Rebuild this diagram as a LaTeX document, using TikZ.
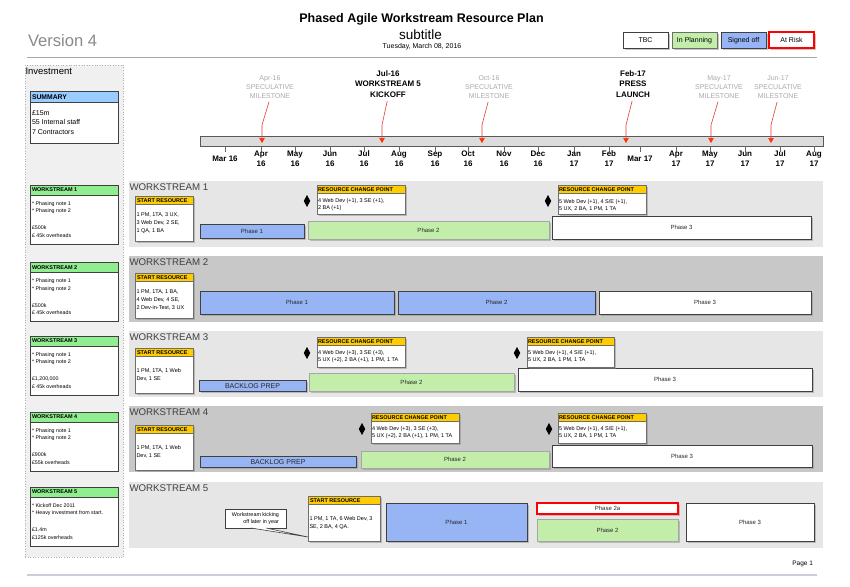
\documentclass[tikz,border=0pt]{standalone}
\usepackage{fontspec}
\setmainfont{Liberation Sans}
\usetikzlibrary{arrows.meta,shadows,shapes.geometric}
\definecolor{bandL}{RGB}{230,230,230}
\definecolor{bandD}{RGB}{200,200,200}
\definecolor{phblue}{RGB}{151,180,245}
\definecolor{phgreen}{RGB}{195,238,170}
\definecolor{hdyellow}{RGB}{255,204,0}
\definecolor{hdgreen}{RGB}{144,238,144}
\definecolor{hdblue}{RGB}{153,204,255}
\definecolor{edge}{RGB}{64,64,64}
\definecolor{softedge}{RGB}{110,110,110}
\definecolor{msgray}{RGB}{170,170,170}
\definecolor{msred}{RGB}{230,60,50}
\definecolor{msredtip}{RGB}{255,51,0}
\definecolor{wstext}{RGB}{64,64,64}
\definecolor{colfill}{RGB}{240,240,240}
\definecolor{vergray}{RGB}{138,138,138}
\definecolor{footline}{RGB}{205,205,215}
\definecolor{barfill}{RGB}{220,220,220}
\definecolor{phtext}{RGB}{40,40,40}
\newcommand{\mkbox}[7]{\node[#1,minimum width={(#5)-(#3)},minimum height={(#6)-(#4)}] (#2) at (#3,#4) {#7};}
\begin{document}
\begin{tikzpicture}[x=1pt,y=-1pt,
  every node/.style={inner sep=0pt,outer sep=0pt},
  shad/.style={drop shadow={shadow xshift=1.8pt,shadow yshift=-1.8pt,fill=black!45}},
  pbox/.style={draw=edge,line width=0.9pt,anchor=north west,align=center,text=phtext,font=\fontsize{6}{7}\selectfont,text height=4.4pt,text depth=0pt,shad},
  ibox/.style={draw=softedge,line width=0.7pt,anchor=north west,fill=white,shad},
  hbox/.style={draw=softedge,line width=0.7pt,anchor=north west,fill=hdyellow},
  lbox/.style={draw=edge,line width=0.8pt,anchor=north west,fill=white},
  colbox/.style={anchor=north west,fill=colfill,draw=gray!60,dotted,line width=0.6pt},
  bandbox/.style={anchor=north west,draw=none},
  legbox/.style={draw=edge,line width=0.8pt,anchor=north west,font=\fontsize{7}{8}\selectfont,text height=5.1pt,text depth=0pt,shad},
  hdtxt/.style={anchor=west,font=\bfseries\fontsize{5.5}{6}\selectfont},
  rtxt/.style={anchor=west,align=left,font=\fontsize{5.5}{8}\selectfont},
  ctxt/.style={anchor=west,align=left,font=\fontsize{5.5}{7}\selectfont},
  ltxt/.style={anchor=west,align=left,font=\fontsize{5.3}{7.7}\selectfont},
  wshead/.style={anchor=west,text=wstext,font=\fontsize{9.7}{11}\selectfont},
  dmd/.style={diamond,fill=black,minimum width=6.5pt,minimum height=12pt,inner sep=0pt},
  msg/.style={align=center,text=msgray,font=\fontsize{7}{9}\selectfont},
  msb/.style={align=center,font=\bfseries\fontsize{8}{10.5}\selectfont},
  msline/.style={draw=msred,line width=0.6pt,-{Triangle[width=5.5pt,length=5pt,fill=msredtip,color=msredtip]}},
  month/.style={align=center,font=\bfseries\fontsize{8}{10}\selectfont},
  tick/.style={draw=gray!80!black,line width=0.6pt}
]
\fill[white] (0,0) rectangle (850,586);
\useasboundingbox (0,0) rectangle (850,586);

% ---------- header ----------
\node[anchor=west,text=vergray,font=\fontsize{16.6}{18}\selectfont] (ver) at (28,41) {Version 4};
\node[font=\bfseries\fontsize{12.5}{14}\selectfont] (title) at (421.5,19.5) {Phased Agile Workstream Resource Plan};
\node[font=\fontsize{13.5}{15}\selectfont] (sub) at (420.5,35) {subtitle};
\node[font=\fontsize{7}{8}\selectfont] (date) at (422,46.5) {Tuesday, March 08, 2016};
\draw[gray!70,line width=0.8pt] (27,57) -- (817,57);

\mkbox{legbox,fill=white}{lgtbc}{623}{32}{668}{48}{TBC}
\mkbox{legbox,fill=phgreen,draw=softedge}{lgplan}{672}{32}{717}{48}{In Planning}
\mkbox{legbox,fill=phblue}{lgsign}{721}{32}{766}{48}{Signed off}
\mkbox{legbox,fill=white,draw=red,line width=1.5pt}{lgrisk}{769}{32}{814}{48}{At Risk}

% ---------- left column ----------
\mkbox{colbox}{invcol}{25}{65}{123.5}{557}{}
\node[anchor=west,font=\fontsize{9.5}{10}\selectfont] (invt) at (25.5,71) {Investment};

\mkbox{lbox}{ls}{30}{91}{118}{143}{}
\mkbox{lbox,fill=hdblue}{lsh}{30}{91}{118}{102.5}{}
\node[anchor=west,font=\bfseries\fontsize{6.8}{7}\selectfont] (lst) at (32,97) {SUMMARY};
\node[anchor=west,align=left,font=\fontsize{7}{9.5}\selectfont] (lsb) at (32,122.5) {£15m\\55 Internal staff\\7 Contractors};

\mkbox{lbox}{l1}{30}{185}{118}{244}{}
\mkbox{lbox,fill=hdgreen}{l1h}{30}{185}{118}{195}{}
\node[hdtxt] (l1t) at (32,190) {WORKSTREAM 1};
\node[ltxt] (l1a) at (32,207.75) {* Phasing note 1\\* Phasing note 2};
\node[ltxt] (l1b) at (32,231.5) {£500k\\£ 45k overheads};

\mkbox{lbox}{l2}{30}{262.5}{118}{321.5}{}
\mkbox{lbox,fill=hdgreen}{l2h}{30}{262.5}{118}{272.5}{}
\node[hdtxt] (l2t) at (32,267.5) {WORKSTREAM 2};
\node[ltxt] (l2a) at (32,285.25) {* Phasing note 1\\* Phasing note 2};
\node[ltxt] (l2b) at (32,309) {£500k\\£ 45k overheads};

\mkbox{lbox}{l3}{30}{336}{118}{395}{}
\mkbox{lbox,fill=hdgreen}{l3h}{30}{336}{118}{346}{}
\node[hdtxt] (l3t) at (32,341) {WORKSTREAM 3};
\node[ltxt] (l3a) at (32,358.75) {* Phasing note 1\\* Phasing note 2};
\node[ltxt] (l3b) at (32,382.5) {£1,200,000\\£ 45k overheads};

\mkbox{lbox}{l4}{30}{412}{118}{471}{}
\mkbox{lbox,fill=hdgreen}{l4h}{30}{412}{118}{422}{}
\node[hdtxt] (l4t) at (32,417) {WORKSTREAM 4};
\node[ltxt] (l4a) at (32,434.75) {* Phasing note 1\\* Phasing note 2};
\node[ltxt] (l4b) at (32,458.5) {£900k\\£55k overheads};

\mkbox{lbox}{l5}{30}{487}{118}{546}{}
\mkbox{lbox,fill=hdgreen}{l5h}{30}{487}{118}{497}{}
\node[hdtxt] (l5t) at (32,492) {WORKSTREAM 5};
\node[ltxt] (l5a) at (32,509.75) {* Kickoff Dec 2011\\* Heavy investment from start.};
\node[ltxt] (l5b) at (32,533.5) {£1.4m\\£125k overheads};

% ---------- timeline ----------
\mkbox{anchor=north west,fill=barfill,draw=gray!70!black,line width=0.8pt}{tl}{200}{136}{823}{146}{}
\foreach \x in {225,261,295,330,364,399,435,468,504,538,574,609,640,676,710,745,780,814}
  {\draw[tick] (\x,146) -- (\x,151.5);}
\node[month] (moM16) at (225,159) {Mar 16};
\node[month] (moM17) at (640,159) {Mar 17};
\foreach \x/\a/\b in {261/Apr/16,295/May/16,330/Jun/16,364/Jul/16,399/Aug/16,435/Sep/16,468/Oct/16,504/Nov/16,538/Dec/16,574/Jan/17,609/Feb/17,676/Apr/17,710/May/17,745/Jun/17,780/Jul/17,814/Aug/17}
  {\node[month] (mo\x) at (\x,159) {\a\\\b};}

% milestones
\node[msg] (m1) at (270,87) {Apr-16\\SPECULATIVE\\MILESTONE};
\node[msb] (m2) at (388,84) {Jul-16\\WORKSTREAM 5\\KICKOFF};
\node[msg] (m3) at (489,87) {Oct-16\\SPECULATIVE\\MILESTONE};
\node[msb] (m4) at (633,84) {Feb-17\\PRESS\\LAUNCH};
\node[msg] (m5) at (719,87) {May-17\\SPECULATIVE\\MILESTONE};
\node[msg] (m6) at (778,87) {Jun-17\\SPECULATIVE\\MILESTONE};
\coordinate (m1k) at (262,125); \coordinate (m1e) at (262,143);
\coordinate (m2k) at (382,125); \coordinate (m2e) at (382,143);
\coordinate (m3k) at (482,125); \coordinate (m3e) at (482,143);
\coordinate (m4k) at (626,125); \coordinate (m4e) at (626,143);
\coordinate (m5k) at (711,125); \coordinate (m5e) at (711,143);
\coordinate (m6k) at (771,125); \coordinate (m6e) at (771,143);
\foreach \i in {1,...,6}
  {\draw[msline,shorten <=3.5pt] (m\i.south) -- (m\i k) -- (m\i e);}

% ---------- bands ----------
\mkbox{bandbox,fill=bandL}{b1}{129}{181}{823}{246.5}{}
\mkbox{bandbox,fill=bandD}{b2}{129}{256}{823}{321.5}{}
\mkbox{bandbox,fill=bandL}{b3}{129}{331}{823}{396.5}{}
\mkbox{bandbox,fill=bandD}{b4}{129}{406}{823}{471.5}{}
\mkbox{bandbox,fill=bandL}{b5}{129}{482}{823}{547.5}{}
\node[wshead] (h1) at (129.5,187.5) {WORKSTREAM 1};
\node[wshead] (h2) at (129.5,262.5) {WORKSTREAM 2};
\node[wshead] (h3) at (129.5,337.5) {WORKSTREAM 3};
\node[wshead] (h4) at (129.5,412.5) {WORKSTREAM 4};
\node[wshead] (h5) at (129.5,488.5) {WORKSTREAM 5};

% ---------- WS1 ----------
\mkbox{ibox}{s1}{135}{196}{193}{241}{}
\mkbox{hbox}{s1h}{135}{196}{193}{204.5}{}
\node[hdtxt] (s1t) at (137,200.3) {START RESOURCE};
\node[rtxt] (s1b) at (136.5,223) {1 PM, 1TA, 3 UX,\\3 Web Dev, 2 SE,\\1 QA, 1 BA};
\mkbox{pbox,fill=phblue}{w1p1}{200}{224}{304}{238.5}{Phase 1}
\mkbox{pbox,fill=phgreen,draw=gray!70}{w1p2}{308}{221}{549}{239}{Phase 2}
\mkbox{pbox,fill=white}{w1p3}{552}{216}{811}{239}{Phase 3}
\node[dmd] (w1d1) at (307,201) {};
\node[dmd] (w1d2) at (548,201) {};
\mkbox{ibox}{r1a}{317}{185}{405}{214}{}
\mkbox{hbox}{r1ah}{317}{185}{405}{193.5}{}
\node[hdtxt] (r1at) at (318,189.3) {RESOURCE CHANGE POINT};
\node[ctxt] (r1ab) at (318,205) {4 Web Dev (+1), 3 SE (+1),\\2 BA (+1)};
\mkbox{ibox}{r1b}{558}{185}{646}{214}{}
\mkbox{hbox}{r1bh}{558}{185}{646}{193.5}{}
\node[hdtxt] (r1bt) at (559,189.3) {RESOURCE CHANGE POINT};
\node[ctxt] (r1bb) at (559,205) {5 Web Dev (+1), 4 S/E (+1),\\5 UX, 2 BA, 1 PM, 1 TA};

% ---------- WS2 ----------
\mkbox{ibox}{s2}{135}{273}{193}{318}{}
\mkbox{hbox}{s2h}{135}{273}{193}{281.5}{}
\node[hdtxt] (s2t) at (137,277.3) {START RESOURCE};
\node[rtxt] (s2b) at (136.5,300.3) {1 PM, 1TA, 1 BA,\\4 Web Dev, 4 SE,\\2 Dev-in-Test, 3 UX};
\mkbox{pbox,fill=phblue}{w2p1}{200}{291.5}{394}{314}{Phase 1}
\mkbox{pbox,fill=phblue}{w2p2}{398}{291.5}{595}{314}{Phase 2}
\mkbox{pbox,fill=white}{w2p3}{599}{291.5}{811}{314}{Phase 3}

% ---------- WS3 ----------
\mkbox{ibox}{s3}{135}{348}{193}{393}{}
\mkbox{hbox}{s3h}{135}{348}{193}{356.5}{}
\node[hdtxt] (s3t) at (137,352.3) {START RESOURCE};
\node[rtxt] (s3b) at (136.5,375.2) {1 PM, 1TA, 1 Web\\Dev, 1 SE};
\mkbox{pbox,fill=phblue,font=\fontsize{7}{8}\selectfont,text height=5.1pt}{w3bl}{199}{380}{306}{391}{BACKLOG PREP}
\mkbox{pbox,fill=phgreen,draw=gray!70}{w3p2}{309}{373}{514}{391}{Phase 2}
\mkbox{pbox,fill=white}{w3p3}{518}{368}{812}{391}{Phase 3}
\node[dmd] (w3d1) at (307,353) {};
\node[dmd] (w3d2) at (517,353) {};
\mkbox{ibox}{r3a}{317}{337}{405}{367}{}
\mkbox{hbox}{r3ah}{317}{337}{405}{345.5}{}
\node[hdtxt] (r3at) at (318,341.3) {RESOURCE CHANGE POINT};
\node[ctxt] (r3ab) at (318,356.5) {4 Web Dev (+3), 3 SE (+3),\\5 UX (+2), 2 BA (+1), 1 PM, 1 TA};
\mkbox{ibox}{r3b}{527}{337}{614}{367}{}
\mkbox{hbox}{r3bh}{527}{337}{614}{345.5}{}
\node[hdtxt] (r3bt) at (528,341.3) {RESOURCE CHANGE POINT};
\node[ctxt] (r3bb) at (528,356.5) {5 Web Dev (+1), 4 S/E (+1),\\5 UX, 2 BA, 1 PM, 1 TA};

% ---------- WS4 ----------
\mkbox{ibox}{s4}{135}{425}{193}{470}{}
\mkbox{hbox}{s4h}{135}{425}{193}{433.5}{}
\node[hdtxt] (s4t) at (137,429.3) {START RESOURCE};
\node[rtxt] (s4b) at (136.5,452) {1 PM, 1TA, 1 Web\\Dev, 1 SE};
\mkbox{pbox,fill=phblue,font=\fontsize{7}{8}\selectfont,text height=5.1pt}{w4bl}{200}{456}{356}{467}{BACKLOG PREP}
\mkbox{pbox,fill=phgreen,draw=gray!70}{w4p2}{361}{451}{549}{468}{Phase 2}
\mkbox{pbox,fill=white}{w4p3}{552}{445}{812}{467}{Phase 3}
\node[dmd] (w4d1) at (362,429) {};
\node[dmd] (w4d2) at (549,429) {};
\mkbox{ibox}{r4a}{371}{413}{459}{443}{}
\mkbox{hbox}{r4ah}{371}{413}{459}{421.5}{}
\node[hdtxt] (r4at) at (372,417.3) {RESOURCE CHANGE POINT};
\node[ctxt] (r4ab) at (372,432.5) {4 Web Dev (+3), 3 SE (+3),\\5 UX (+2), 2 BA (+1), 1 PM, 1 TA};
\mkbox{ibox}{r4b}{558}{413}{646}{443}{}
\mkbox{hbox}{r4bh}{558}{413}{646}{421.5}{}
\node[hdtxt] (r4bt) at (559,417.3) {RESOURCE CHANGE POINT};
\node[ctxt] (r4bb) at (559,432.5) {5 Web Dev (+1), 4 S/E (+1),\\5 UX, 2 BA, 1 PM, 1 TA};

% ---------- WS5 ----------
\mkbox{ibox}{s5}{308}{496}{380}{541.5}{}
\mkbox{hbox}{s5h}{308}{496}{380}{504.5}{}
\node[hdtxt] (s5t) at (310,500.3) {START RESOURCE};
\node[rtxt] (s5b) at (309.5,523.3) {1 PM, 1 TA, 6 Web Dev, 3\\SE, 2 BA, 4 QA.};
\mkbox{pbox,fill=phblue}{w5p1}{386}{503}{527}{541}{Phase 1}
\mkbox{pbox,fill=white,draw=red,line width=1.3pt}{w5p2a}{537}{503}{678}{514}{Phase 2a}
\mkbox{pbox,fill=phgreen,draw=gray!70}{w5p2}{537}{519}{678}{541}{Phase 2}
\mkbox{pbox,fill=white}{w5p3}{686}{503}{814}{541}{Phase 3}

% callout
\node[draw=edge,fill=white,line width=0.6pt,anchor=north west,minimum width=61pt,minimum height=19pt,align=right,font=\fontsize{5.4}{6.8}\selectfont] (co) at (225,509) {Workstream kicking\\off later in year};
\coordinate (cotip) at (308,537);
\fill[white] ([xshift=26pt]co.south west) -- (cotip) -- ([xshift=41pt]co.south west) -- cycle;
\draw[edge,line width=0.6pt] ([xshift=26pt]co.south west) -- (cotip) -- ([xshift=41pt]co.south west);

% ---------- footer ----------
\node[anchor=east,font=\fontsize{6.5}{7}\selectfont] (pg) at (813,564) {Page 1};
\draw[footline,line width=1.2pt] (27,575) -- (817,575);
\end{tikzpicture}
\end{document}
